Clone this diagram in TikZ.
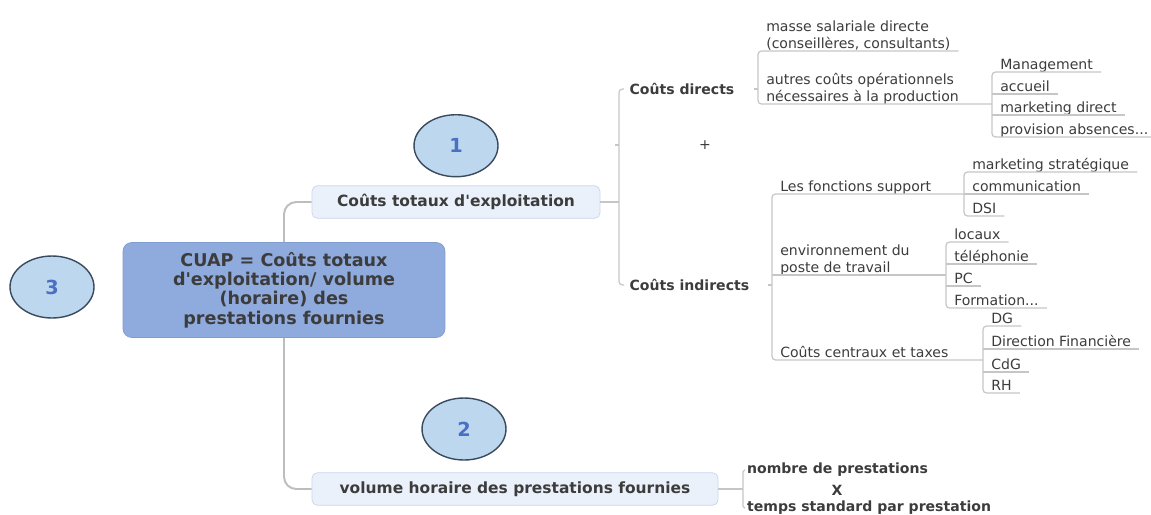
\documentclass[tikz,border=0pt]{standalone}
\usepackage{fontspec}
\setmainfont{DejaVu Sans}
\usetikzlibrary{positioning,shapes.geometric}
\definecolor{ink}{HTML}{3C3C3C}
\definecolor{wire}{HTML}{C6C6C6}
\definecolor{trunkgray}{HTML}{BDBDBD}
\definecolor{cuapblue}{HTML}{8FAADC}
\definecolor{cuapedge}{HTML}{7F9DCF}
\definecolor{pale}{HTML}{EAF1FB}
\definecolor{paleedge}{HTML}{C8D6EA}
\definecolor{badgefill}{HTML}{BDD7EE}
\definecolor{badgeedge}{HTML}{3A4A5E}
\definecolor{badgeink}{HTML}{4A70C4}
\tikzset{central/.style={draw=cuapedge,fill=cuapblue,rounded corners=5pt,align=center,text=ink,font=\fontsize{10}{11}\selectfont\bfseries,minimum width=6.44cm,minimum height=1.9cm}, topic/.style={draw=paleedge,fill=pale,rounded corners=3pt,text=ink,font=\fontsize{8.8}{10}\selectfont\bfseries,minimum height=0.65cm}, badge/.style={ellipse,draw=badgeedge,fill=badgefill,line width=0.8pt,minimum width=1.68cm,minimum height=1.24cm,text=badgeink,font=\fontsize{11}{12}\selectfont\bfseries}, head/.style={anchor=west,inner xsep=3pt,text=ink,font=\fontsize{8}{9.2}\selectfont\bfseries}, leaf/.style={anchor=south west,inner xsep=4.5pt,inner ysep=0.5pt,text depth=0.1em,align=left,text=ink,font=\fontsize{8}{9.2}\selectfont}, factor/.style={anchor=west,inner xsep=1pt,text=ink,font=\fontsize{8}{9.2}\selectfont\bfseries}, trunk/.style={draw=trunkgray,line width=1.1pt}, lnk/.style={draw=wire,line width=0.7pt}}

\begin{document}
\begin{tikzpicture}[x=0.02cm,y=-0.02cm]
\useasboundingbox (0,0) rectangle (1151,514);
\node[central] (cuap) at (284,290) {CUAP = Coûts totaux\\d\textquotesingle exploitation/ volume\\(horaire) des\\prestations fournies};
\node[topic,minimum width=5.76cm] (totaux) at (456,202) {Coûts totaux d\textquotesingle exploitation};
\node[topic,minimum width=8.12cm] (volume) at (515,489) {volume horaire des prestations fournies};
\node[badge,above=0.16cm of totaux] (b1) {1};
\node[badge] (b2) at (464,429) {2};
\node[badge] (b3) at (52,287) {3};
\draw[trunk,rounded corners=7pt] (cuap.north) |- (totaux.west);
\draw[trunk,rounded corners=7pt] (cuap.south) |- (volume.west);

\coordinate (kt) at (619,202);
\node[head] (directs) at (624,89) {Coûts directs};
\node[text=ink,font=\fontsize{8}{9.2}\selectfont] (plus) at (705,145) {+};
\node[head] (indirects) at (624,285) {Coûts indirects};
\draw[lnk] (totaux.east) -- (kt);
\draw[lnk,rounded corners=2pt] (directs.west) -| (kt) |- (indirects.west);
\draw[lnk] (kt |- plus) -- ++(-4,0);

\coordinate (kd) at (758,80);
\coordinate (km) at (992,104);
\node[leaf] (masse) at (758,51) {masse salariale directe\\(conseillères, consultants)};
\node[leaf] (autres) at (758,104) {autres coûts opérationnels\\nécessaires à la production};
\draw[lnk,rounded corners=2pt] (masse.south east) -| (kd) |- (km);
\draw[lnk] (kd |- directs.east) -- ++(-4,0);
\node[leaf] (mgmt) at (992,72) {Management};
\node[leaf] (accueil) at (992,94) {accueil};
\node[leaf] (mkd) at (992,115) {marketing direct};
\node[leaf] (prov) at (992,137) {provision absences...};
\draw[lnk,rounded corners=2pt] (mgmt.south east) -| (km) |- (prov.south east);

\coordinate (ki) at (772,275);
\coordinate (ks) at (964,194);
\coordinate (ke) at (946,275);
\coordinate (kc) at (983,360);
\node[leaf] (fsupport) at (772,194) {Les fonctions support};
\node[leaf] (envt) at (772,275) {environnement du\\poste de travail};
\node[leaf] (centraux) at (772,360) {Coûts centraux et taxes};
\draw[lnk,rounded corners=2pt] (ks) -| (ki) |- (kc);
\draw[lnk] (ki) -- (ke);
\draw[lnk] (ki |- indirects.east) -- ++(-4,0);
\node[leaf] (mks) at (964,172) {marketing stratégique};
\node[leaf] (comm) at (964,194) {communication};
\node[leaf] (dsi) at (964,216) {DSI};
\draw[lnk,rounded corners=2pt] (mks.south east) -| (ks) |- (dsi.south east);
\node[leaf] (locaux) at (946,242) {locaux};
\node[leaf] (tel) at (946,264) {téléphonie};
\node[leaf] (pc) at (946,286) {PC};
\node[leaf] (form) at (946,308) {Formation...};
\draw[lnk,rounded corners=2pt] (locaux.south east) -| (ke) |- (form.south east);
\node[leaf] (dg) at (983,326) {DG};
\node[leaf] (dirfin) at (983,349) {Direction Financière};
\node[leaf] (cdg) at (983,372) {CdG};
\node[leaf] (rh) at (983,393) {RH};
\draw[lnk,rounded corners=2pt] (dg.south east) -| (kc) |- (rh.south east);
\foreach \n in {accueil,mkd,comm,tel,pc,dirfin,cdg}
  \draw[lnk] (\n.south west) -- (\n.south east);

\coordinate (kv) at (743,489);
\node[factor] (nombre) at (745,470) {nombre de prestations};
\node[text=ink,font=\fontsize{8}{9.2}\selectfont\bfseries] (fois) at (837,490) {X};
\node[factor] (temps) at (745,508) {temps standard par prestation};
\draw[lnk] (volume.east) -- (kv);
\draw[lnk,rounded corners=1pt] (nombre.west) -| (kv) |- (temps.west);
\end{tikzpicture}
\end{document}
